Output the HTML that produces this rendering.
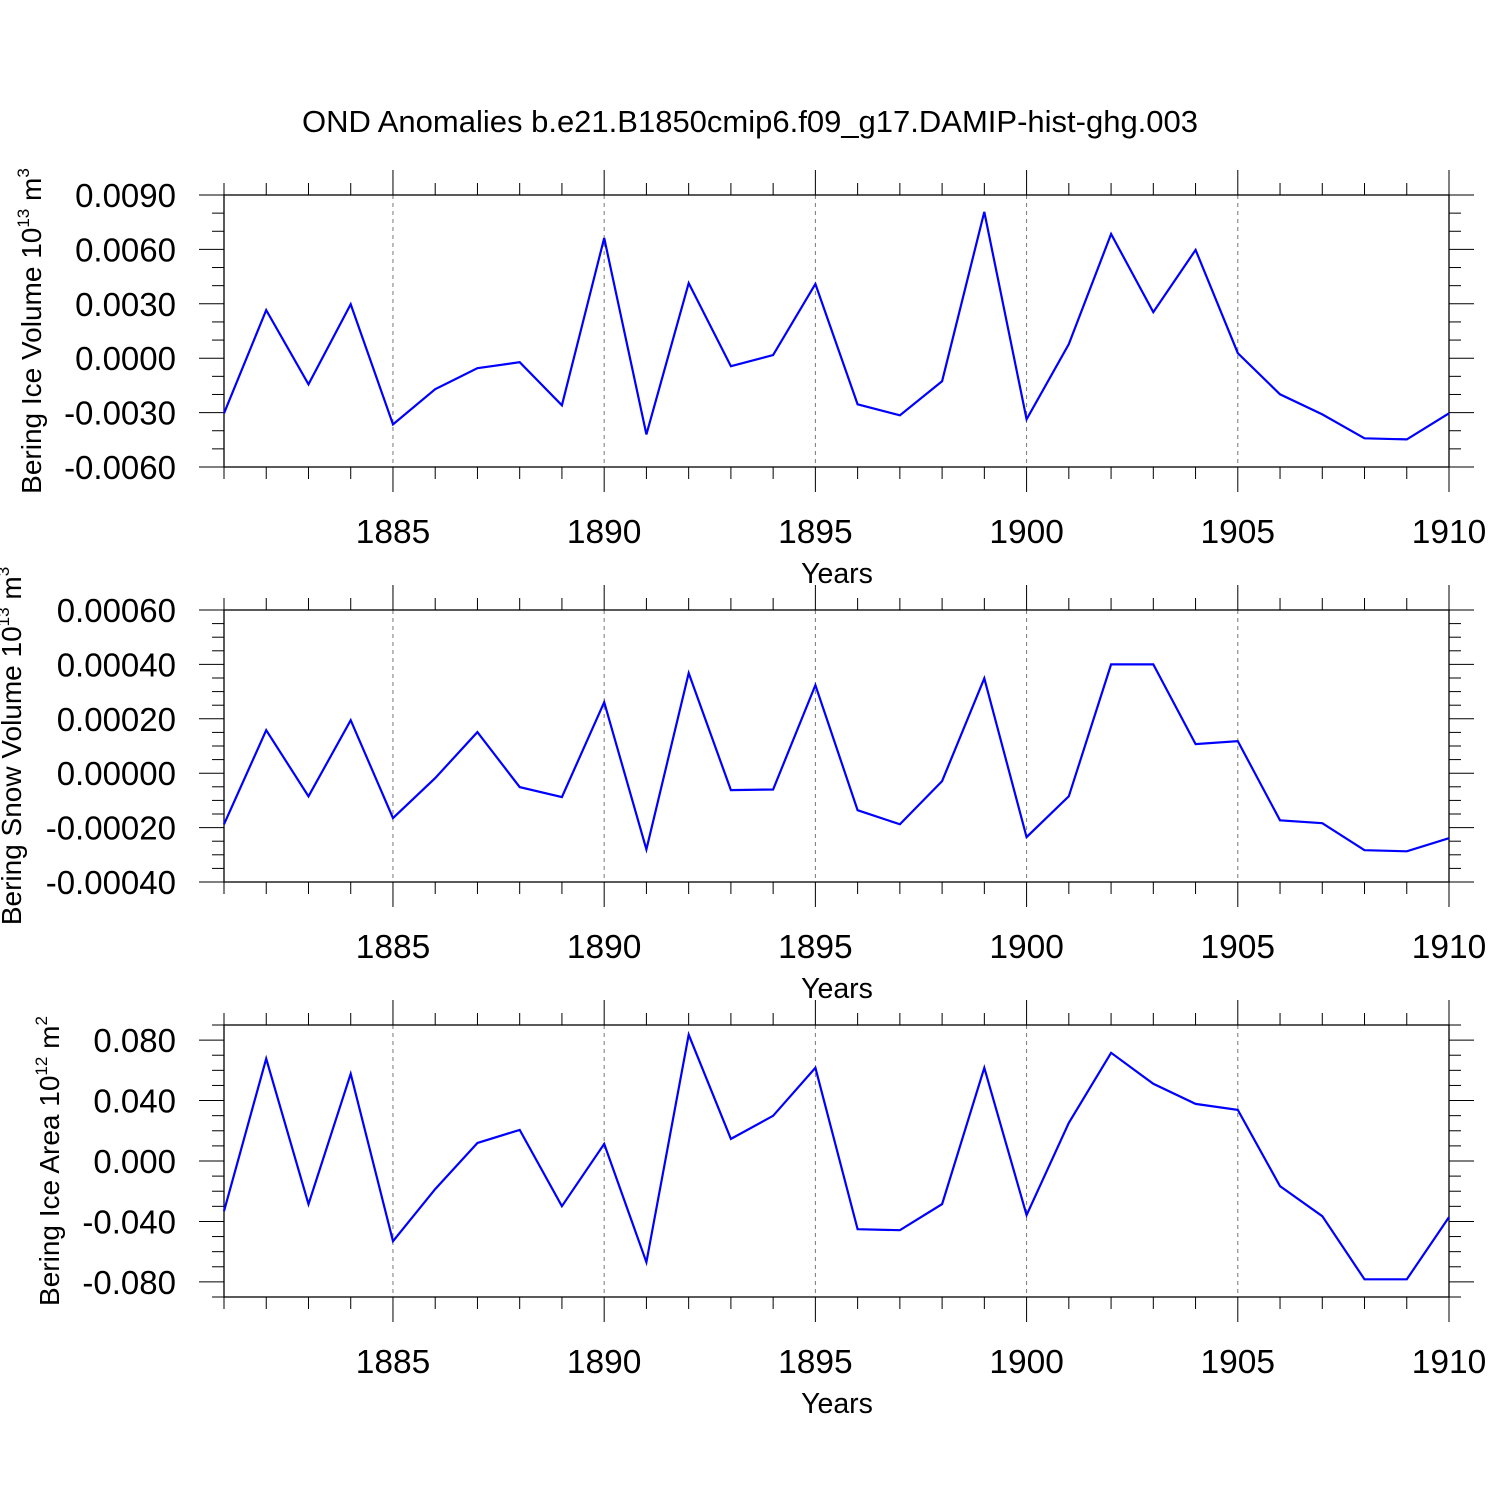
<!DOCTYPE html>
<html><head><meta charset="utf-8"><style>
html,body{margin:0;padding:0;background:#fff;}
svg{display:block;font-family:"Liberation Sans",Arial,sans-serif;}
</style></head><body>
<svg id="chart" width="1500" height="1500" viewBox="0 0 1500 1500" xmlns="http://www.w3.org/2000/svg">
<rect width="1500" height="1500" fill="#fff"/>
<text x="750" y="132" font-size="31" text-anchor="middle">OND Anomalies b.e21.B1850cmip6.f09_g17.DAMIP-hist-ghg.003</text>
</svg>
<script>
const years = [1881,1882,1883,1884,1885,1886,1887,1888,1889,1890,1891,1892,1893,1894,1895,1896,1897,1898,1899,1900,1901,1902,1903,1904,1905,1906,1907,1908,1909,1910];
const iceVolume = [-0.00304,0.00265,-0.00144,0.00298,-0.00365,-0.00171,-0.00055,-0.00022,-0.0026,0.00663,-0.0042,0.00414,-0.00044,0.00017,0.00409,-0.00254,-0.00315,-0.00127,0.00807,-0.00337,0.00077,0.00685,0.00254,0.00597,0.00028,-0.00199,-0.0031,-0.00442,-0.00448,-0.00304];
const snowVolume = [-0.000188,0.000158,-0.000085,0.000195,-0.000165,-0.000018,0.000151,-0.000051,-0.000088,0.000261,-0.00028,0.000368,-0.000062,-0.00006,0.000324,-0.000136,-0.000188,-0.000029,0.000349,-0.000235,-0.000085,0.0004,0.0004,0.000107,0.000118,-0.000173,-0.000184,-0.000283,-0.000287,-0.000239];
const iceArea = [-0.0332,0.0677,-0.0285,0.0577,-0.0531,-0.0186,0.0119,0.0206,-0.0299,0.0113,-0.067,0.0836,0.0146,0.0299,0.0617,-0.0451,-0.0458,-0.0285,0.0617,-0.0358,0.0252,0.0716,0.0511,0.0378,0.0338,-0.0166,-0.0365,-0.0783,-0.0783,-0.0371];
const xTickYears = [1885,1890,1895,1900,1905,1910];
const iceVolTicks = ["0.0090","0.0060","0.0030","0.0000","-0.0030","-0.0060"];
const snowTicks = ["0.00060","0.00040","0.00020","0.00000","-0.00020","-0.00040"];
const areaTicks = ["0.080","0.040","0.000","-0.040","-0.080"];

const NS="http://www.w3.org/2000/svg";
const svg=document.getElementById('chart');
const X0=224,X1=1449,YR0=1881,YR1=1910;
function xs(yr){return X0+(yr-YR0)/(YR1-YR0)*(X1-X0);}
function mk(tag,attrs,parent){const e=document.createElementNS(NS,tag);for(const k in attrs)e.setAttribute(k,attrs[k]);(parent||svg).appendChild(e);return e;}

const panels=[
 {name:'ice-volume',top:195,vals:iceVolume,min:-0.006,max:0.009,major:0.003,minor:0.001,labels:iceVolTicks,titleX:41,t1:'Bering Ice Volume 10',sup:'13',t2:' m',sup2:'3'},
 {name:'snow-volume',top:610,vals:snowVolume,min:-0.0004,max:0.0006,major:0.0002,minor:0.00005,labels:snowTicks,titleX:21,t1:'Bering Snow Volume 10',sup:'13',t2:' m',sup2:'3'},
 {name:'ice-area',top:1025,vals:iceArea,min:-0.09,max:0.09,major:0.04,minor:0.01,labels:areaTicks,titleX:59,t1:'Bering Ice Area 10',sup:'12',t2:' m',sup2:'2',firstMajor:-0.08}
];
panels.forEach(p=>{
  const g=mk('g',{});
  
  
  const top=p.top,bot=top+272;
  const ys=v=>bot-(v-p.min)/(p.max-p.min)*(bot-top);
  xTickYears.forEach(yr=>{ if(yr<YR1){const l=mk('line',{x1:xs(yr),x2:xs(yr),y1:top,y2:bot,stroke:'#777','stroke-width':1,'stroke-dasharray':'4,4'},g);
    
    }});
  const box=mk('rect',{x:X0,y:top,width:X1-X0,height:bot-top,fill:'none',stroke:'#000','stroke-width':1.3},g);
  
  
  for(let yr=YR0;yr<=YR1;yr++){
    const maj=xTickYears.includes(yr);const L=maj?25:12;const x=xs(yr);
    mk('line',{x1:x,x2:x,y1:top,y2:top-L,stroke:'#000','stroke-width':1},g);
    mk('line',{x1:x,x2:x,y1:bot,y2:bot+L,stroke:'#000','stroke-width':1},g);
  }
  xTickYears.forEach(yr=>{const t=mk('text',{x:xs(yr),y:bot+76,'font-size':33.5,'text-anchor':'middle'},g);t.textContent=yr;
    
    });
  const xt=mk('text',{x:837,y:bot+116,'font-size':28.5,'text-anchor':'middle'},g);xt.textContent='Years';
  
  
  const eps=1e-9;
  const start=p.firstMajor!==undefined?p.firstMajor:p.min;
  for(let v=p.min;v<=p.max+eps;v+=p.minor){
    const y=ys(v);
    const r=(v-start)/p.major;const maj=Math.abs(r-Math.round(r))<1e-4;
    const L=maj?25:12;
    mk('line',{x1:X0,x2:X0-L,y1:y,y2:y,stroke:'#000','stroke-width':1},g);
    mk('line',{x1:X1,x2:X1+L,y1:y,y2:y,stroke:'#000','stroke-width':1},g);
  }
  p.labels.forEach(lbl=>{const v=parseFloat(lbl);const t=mk('text',{x:176,y:ys(v)+12,'font-size':33,'text-anchor':'end'},g);t.textContent=lbl;
    
    });
  const cy=(top+bot)/2;
  const yt=mk('text',{x:0,y:0,'font-size':28,'text-anchor':'middle',transform:`translate(${p.titleX},${cy}) rotate(-90)`},g);
  
  
  const a=mk('tspan',{},yt);a.textContent=p.t1;
  const b=mk('tspan',{dy:-12,'font-size':17},yt);b.textContent=p.sup;
  const c=mk('tspan',{dy:12},yt);c.textContent=p.t2;
  const d=mk('tspan',{dy:-12,'font-size':17},yt);d.textContent=p.sup2;
  const pts=p.vals.map((v,i)=>xs(years[i]).toFixed(1)+','+ys(v).toFixed(1)).join(' ');
  const pl=mk('polyline',{points:pts,fill:'none',stroke:'#0000ff','stroke-width':2.2,'stroke-linejoin':'miter'},g);
  
  
});
</script>
</body></html>
